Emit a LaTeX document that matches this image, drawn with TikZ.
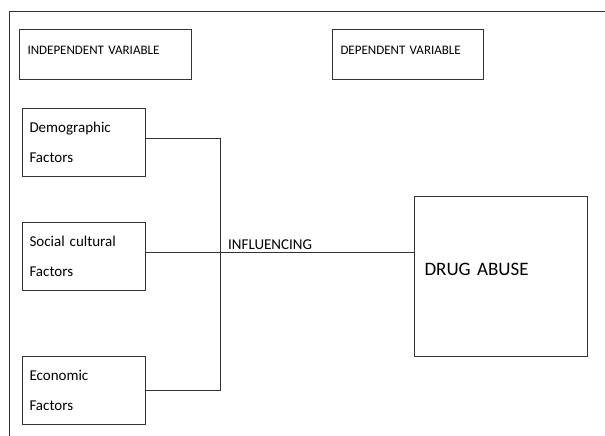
\documentclass[tikz,border=0pt]{standalone}
\usepackage{fontspec}
\setmainfont[WordSpace=0.7]{Carlito}
\begin{document}
\begin{tikzpicture}[x=1pt,y=-1pt]
% Styles for the heading, factor and outcome boxes
\tikzstyle{Heading}=[draw=black!80,line width=1pt,rectangle,anchor=north west,align=left,inner xsep=8pt,text width=156pt,text depth=8pt,minimum height=50pt,font=\fontsize{13}{15}\selectfont]
\tikzstyle{Factor}=[draw=black!80,line width=1pt,rectangle,anchor=west,align=left,inner xsep=7pt,text width=109pt,minimum height=68pt,font=\fontsize{15}{30}\selectfont]
\tikzstyle{Outcome}=[draw=black!80,line width=1pt,rectangle,anchor=north west,align=left,inner xsep=10pt,text width=153pt,text depth=14pt,minimum height=160pt,font=\fontsize{19}{22}\selectfont]
\tikzstyle{Link}=[draw=black!80,line width=1pt]
\useasboundingbox (0,0) rectangle (605,436);
% Outer frame
\draw[black!80,line width=1pt] (9,436) |- (605,12);
% Nodes
\node[Heading] (iv) at (19,29) {INDEPENDENT VARIABLE};
\node[Heading,text width=135pt] (dv) at (332,29) {DEPENDENT VARIABLE};
\foreach \n/\y/\t in {
    demo/142/Demographic\\Factors,
    social/256/Social cultural\\Factors,
    econ/390/Economic\\Factors}
  \node[Factor] (\n) at (22,\y) {\t};
\node[Outcome] (drug) at (414,196) {DRUG ABUSE};
% Edges
\coordinate (bus) at (220,0);
\coordinate (sline) at ([yshift=4pt]social.east);
\draw[Link] ([yshift=4pt]demo.east) -| (bus |- econ.east) -- (econ.east);
\draw[Link] (sline) -- (drug.west |- sline);
\node[anchor=south west,inner sep=2pt,font=\fontsize{15}{17}\selectfont] (infl) at ([xshift=6pt]bus |- sline) {INFLUENCING};
\end{tikzpicture}
\end{document}
